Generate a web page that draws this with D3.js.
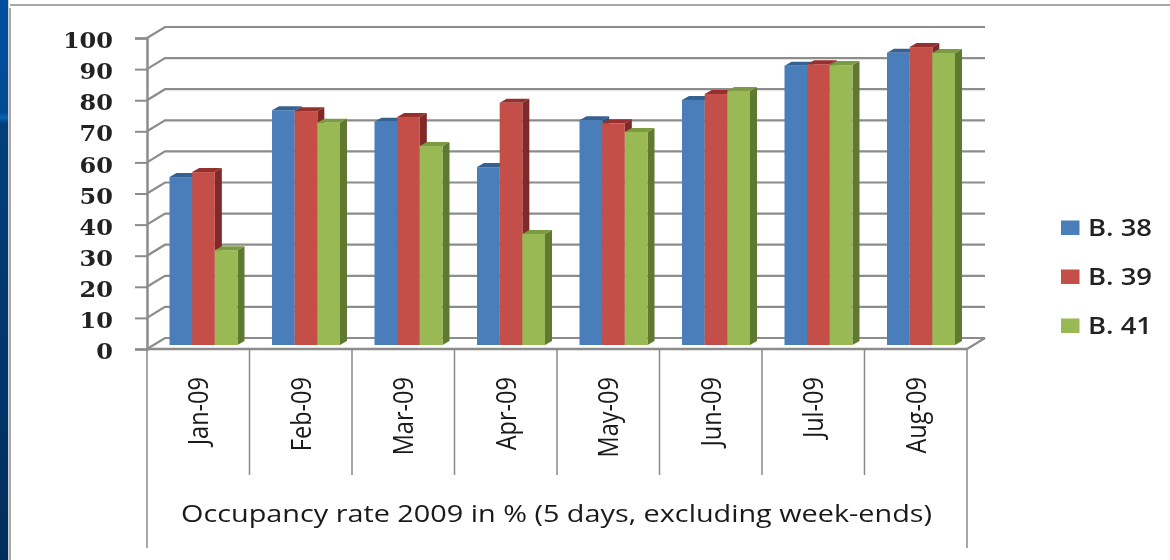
<!DOCTYPE html>
<html>
<head>
<meta charset="utf-8">
<script src="https://cdn.jsdelivr.net/npm/d3@7"></script>
<style>
  html, body { margin: 0; padding: 0; background: #fff; overflow: hidden; }
  svg { display: block; filter: blur(0.6px); }
</style>
</head>
<body>
<svg id="vis" width="1170" height="560"></svg>
<script>
// values
var months = ["Jan-09", "Feb-09", "Mar-09", "Apr-09", "May-09", "Jun-09", "Jul-09", "Aug-09"];
var seriesNames = ["B. 38", "B. 39", "B. 41"];
var b38 = [54, 75.5, 71.8, 57.2, 72.3, 78.8, 89.8, 94];
var b39 = [55.6, 75.2, 73.3, 77.9, 71.3, 80.7, 90.3, 95.8];
var b41 = [30.5, 71.5, 64, 35.7, 68.5, 81.7, 90, 93.9];
var yTicks = [0, 10, 20, 30, 40, 50, 60, 70, 80, 90, 100];
var footer = "Occupancy rate 2009 in % (5 days, excluding week-ends)";

var seriesValues = [b38, b39, b41];
var faceColors = ["#4a7ebb", "#c44f49", "#98b954"];
var topColors = ["#35608f", "#96302d", "#7c9a42"];
var sideColors = ["#2f5480", "#7f2a28", "#5f7a30"];

const WALL_DX = 18, WALL_DY = 11;   // depth of the back wall
const BAR_DX = 7, BAR_DY = 4;       // depth of a bar
const GRID = "#8c8c8c";

var vis = d3.select("#vis");

var y = d3.scaleLinear().domain([0, 100]).range([349, 38]);
var x0 = d3.scaleBand().domain(months).range([147, 967]);
var x1 = d3.scaleBand().domain(seriesNames).range([0, 68]);
var barShift = 22.5;

// slide background: blue strip on the left, grey frame
var defs = vis.append("defs");
var grad = defs.append("linearGradient").attr("id", "strip")
    .attr("x1", 0).attr("y1", 0).attr("x2", 0).attr("y2", 1);
grad.append("stop").attr("offset", "0").attr("stop-color", "#004f9e");
grad.append("stop").attr("offset", "0.2").attr("stop-color", "#004b94");
grad.append("stop").attr("offset", "0.21").attr("stop-color", "#0a62b4");
grad.append("stop").attr("offset", "0.22").attr("stop-color", "#003f7c");
grad.append("stop").attr("offset", "1").attr("stop-color", "#002d5c");
vis.append("rect").attr("x", 0).attr("y", 0).attr("width", 8).attr("height", 560).attr("fill", "url(#strip)");
vis.append("rect").attr("x", 8).attr("y", 0).attr("width", 1).attr("height", 560).attr("fill", "#d0d0d0");
vis.append("line").attr("x1", 10).attr("x2", 10).attr("y1", 8).attr("y2", 560)
    .attr("stroke", "#a8a8a8").attr("stroke-width", 2);
vis.append("line").attr("x1", 10).attr("x2", 1170).attr("y1", 5).attr("y2", 5)
    .attr("stroke", "#a8a8a8").attr("stroke-width", 2);

// gridlines on the back wall with their slanted part on the side wall
var grid = vis.append("g").attr("fill", "none").attr("stroke", GRID).attr("stroke-width", 2.2);
grid.selectAll("path")
    .data(yTicks)
    .enter()
    .append("path")
    .attr("d", function (d) {
        var p = d3.path();
        p.moveTo(147, y(d));
        p.lineTo(147 + WALL_DX, y(d) - WALL_DY);
        p.lineTo(967 + WALL_DX, y(d) - WALL_DY);
        return p.toString();
    });
// floor closing on the right
vis.append("line")
    .attr("x1", x0.range()[1]).attr("y1", y(0))
    .attr("x2", x0.range()[1] + WALL_DX).attr("y2", y(0) - WALL_DY)
    .attr("stroke", GRID).attr("stroke-width", 2.2);

// value axis
var yAxis = vis.append("g")
    .attr("transform", "translate(147,0)")
    .call(d3.axisLeft(y).tickValues(yTicks).tickSize(12).tickPadding(22));
yAxis.select(".domain").attr("stroke", GRID).attr("stroke-width", 2.5);
yAxis.selectAll(".tick line").attr("stroke", GRID).attr("stroke-width", 2);
yAxis.selectAll("text")
    .attr("font-family", "DejaVu Serif")
    .attr("font-weight", "bold")
    .attr("font-size", 23)
    .attr("fill", "#222")
    .attr("dy", "0.42em")
    .attr("lengthAdjust", "spacingAndGlyphs")
    .attr("textLength", function (d) { return String(d).length * 16.7; });

// bars
var groups = vis.selectAll("g.month")
    .data(months)
    .enter()
    .append("g")
    .attr("class", "month")
    .attr("transform", function (d) { return "translate(" + (x0(d) + barShift) + ",0)"; });

seriesNames.forEach(function (name, s) {
    var w = x1.bandwidth();
    var left = x1(name);
    var base = y(0) - BAR_DY;
    function topY(i) { return y(seriesValues[s][i]) - BAR_DY; }

    groups.append("path")
        .attr("fill", sideColors[s])
        .attr("d", function (d, i) {
            var t = topY(i);
            return "M" + (left + w) + "," + base + "L" + (left + w + BAR_DX) + "," + (base - BAR_DY) +
                "L" + (left + w + BAR_DX) + "," + (t - BAR_DY) + "L" + (left + w) + "," + t + "Z";
        });
    groups.append("path")
        .attr("fill", topColors[s])
        .attr("d", function (d, i) {
            var t = topY(i);
            return "M" + left + "," + t + "L" + (left + BAR_DX) + "," + (t - BAR_DY) +
                "L" + (left + w + BAR_DX) + "," + (t - BAR_DY) + "L" + (left + w) + "," + t + "Z";
        });
    groups.append("rect")
        .attr("fill", faceColors[s])
        .attr("x", left)
        .attr("y", function (d, i) { return topY(i); })
        .attr("width", w)
        .attr("height", function (d, i) { return base - topY(i); });
});

// category axis with the table style separators
vis.append("line").attr("x1", 147).attr("x2", 967).attr("y1", y(0)).attr("y2", y(0))
    .attr("stroke", GRID).attr("stroke-width", 2.5);
vis.selectAll("line.sep")
    .data(months.slice(1))
    .enter()
    .append("line")
    .attr("class", "sep")
    .attr("x1", function (d) { return x0(d); })
    .attr("x2", function (d) { return x0(d); })
    .attr("y1", y(0))
    .attr("y2", 475)
    .attr("stroke", "#8a8a8a")
    .attr("stroke-width", 1.5);
x0.range().forEach(function (edge) {
    vis.append("line").attr("x1", edge).attr("x2", edge).attr("y1", y(0)).attr("y2", 548)
        .attr("stroke", "#8a8a8a").attr("stroke-width", 1.5);
});

// the picture is stretched, so the labels are squeezed along their length
vis.selectAll("text.month-label")
    .data(months)
    .enter()
    .append("text")
    .attr("class", "month-label")
    .attr("transform", function (d) {
        return "translate(" + (x0(d) + x0.bandwidth() / 2 + 10) + ",377) rotate(-90) scale(0.84,1)";
    })
    .attr("text-anchor", "end")
    .attr("font-family", "Open Sans")
    .attr("font-weight", 500)
    .attr("font-size", 28)
    .attr("fill", "#1a1a1a")
    .text(function (d) { return d; });

vis.append("text")
    .attr("x", 556.5)
    .attr("y", 522)
    .attr("text-anchor", "middle")
    .attr("font-family", "Open Sans")
    .attr("font-weight", 500)
    .attr("font-size", 24)
    .attr("textLength", 751)
    .attr("lengthAdjust", "spacingAndGlyphs")
    .attr("fill", "#1a1a1a")
    .text(footer);

// legend
var legendY = d3.scalePoint().domain(seriesNames).range([228, 326]);
var legend = vis.selectAll("g.legend")
    .data(seriesNames)
    .enter()
    .append("g")
    .attr("class", "legend")
    .attr("transform", function (d) { return "translate(1061," + legendY(d) + ")"; });
legend.append("rect")
    .attr("x", 0).attr("y", -7.5).attr("width", 18.5).attr("height", 14.5)
    .attr("fill", function (d, i) { return faceColors[i]; });
legend.append("text")
    .attr("x", 27).attr("y", 8)
    .attr("font-family", "Open Sans")
    .attr("font-weight", 600)
    .attr("font-size", 23.5)
    .attr("textLength", 64)
    .attr("lengthAdjust", "spacingAndGlyphs")
    .attr("fill", "#222")
    .text(function (d) { return d; });
</script>
</body>
</html>
